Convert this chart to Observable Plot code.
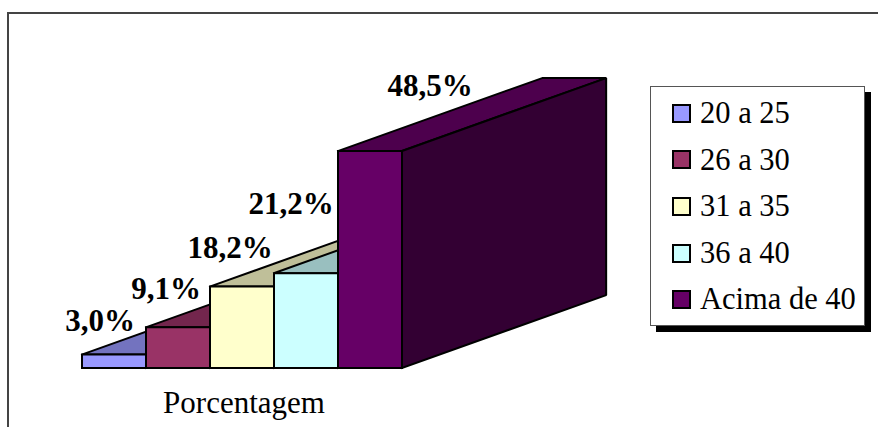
<!DOCTYPE html>
<html><head><meta charset="utf-8">
<script src="https://cdn.jsdelivr.net/npm/d3@7"></script>
<script src="https://cdn.jsdelivr.net/npm/@observablehq/plot@0.6"></script>
<style>
html,body{margin:0;padding:0;background:#fff;overflow:hidden}
#stage{position:relative;width:878px;height:427px;overflow:hidden;font-family:"Liberation Serif",serif;color:#000}
#frame{position:absolute;left:7px;top:12px;width:880px;height:430px;border:2px solid #444;box-sizing:border-box}
#chart{position:absolute;left:0;top:0}
#legend{position:absolute;left:650px;top:86px;width:215px;height:240px;box-sizing:border-box;background:#fff;border:1px solid #555;box-shadow:6px 6px 0 #000;padding-top:3px}
.row{display:flex;align-items:center;height:46.6px;font-size:30.5px;line-height:1;white-space:nowrap}
.sw{width:15px;height:15px;margin:0 9px 0 21px;border:2px solid #000;flex:none}
</style></head>
<body><div id="stage"><div id="frame"></div><div id="chart"></div><div id="legend"></div></div>
<script>
const categories = ["20 a 25", "26 a 30", "31 a 35", "36 a 40", "Acima de 40"];
const values = [3.0, 9.1, 18.2, 21.2, 48.5];
const valueLabels = ["3,0%", "9,1%", "18,2%", "21,2%", "48,5%"];
const colors = ["#9999FF", "#993366", "#FFFFCC", "#CCFFFF", "#660066"];
const axisLabel = "Porcentagem";

// Oblique depth of the 3D box, in scale units (slots, percent)
const depthX = 3.19, depthY = 16.3;
const shade = (c, k) => { const r = d3.rgb(c); return d3.rgb(r.r * k, r.g * k, r.b * k).formatHex(); };

const faces = [];
values.forEach((v, i) => {
  const face = (name, fill, ring) => [...ring, ring[0]].forEach(([x, y]) =>
    faces.push({face: `${i}-${name}`, fill, x, y}));
  face("top", shade(colors[i], 0.75), [[i, v], [i + 1, v], [i + 1 + depthX, v + depthY], [i + depthX, v + depthY]]);
  face("side", shade(colors[i], 0.5), [[i + 1, 0], [i + 1 + depthX, depthY], [i + 1 + depthX, v + depthY], [i + 1, v]]);
  face("front", colors[i], [[i, 0], [i + 1, 0], [i + 1, v], [i, v]]);
});

// label nudges from each bar's top-centre, in pixels
const nudges = [[-14, -33], [-12, -38], [-12, -38], [-15, -69], [60, -65]];

const labels = values.map((v, i) => Plot.text([valueLabels[i]], {
  x: () => i + 0.5, y: () => v, text: d => d,
  dx: nudges[i][0], dy: nudges[i][1],
  fontSize: 31, fontWeight: "bold", fontFamily: "Liberation Serif", fill: "#000"
}));

const plot = Plot.plot({
  width: 878, height: 427, margin: 0,
  x: {type: "linear", domain: [0, 5], range: [81.5, 401.5], axis: null},
  y: {type: "linear", domain: [0, 48.5], range: [367.5, 150.5], axis: null},
  color: {type: "identity"},
  marks: [
    Plot.line(faces, {x: "x", y: "y", z: "face", fill: "fill", stroke: "#000", strokeWidth: 2, strokeLinejoin: "miter", strokeLinecap: "square"}),
    ...labels,
    Plot.text([axisLabel], {x: () => 2.5, y: () => 0, text: d => d, dx: 2, dy: 35, fontSize: 31, fontFamily: "Liberation Serif", fill: "#000"})
  ]
});
plot.style.background = "transparent";
document.getElementById("chart").append(plot);

const legend = document.getElementById("legend");
categories.forEach((c, i) => {
  const row = document.createElement("div"); row.className = "row";
  const sw = document.createElement("span"); sw.className = "sw"; sw.style.background = colors[i];
  const t = document.createElement("span"); t.textContent = c;
  row.append(sw, t); legend.append(row);
});
</script></body></html>
